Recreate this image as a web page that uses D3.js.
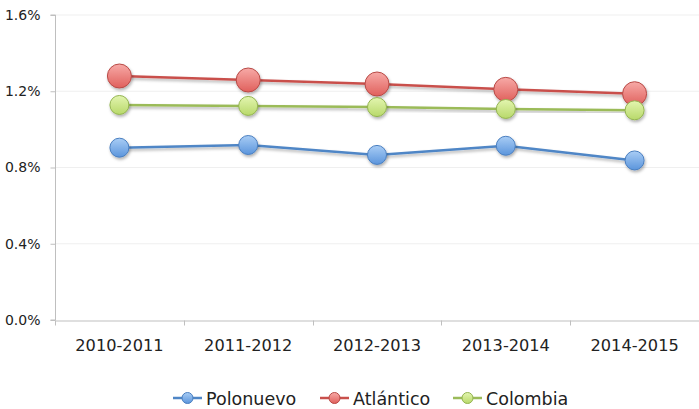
<!DOCTYPE html>
<html><head><meta charset="utf-8">
<script src="https://cdn.jsdelivr.net/npm/d3@7"></script>
<style>body{margin:0;background:#fff;} svg{display:block;font-family:"DejaVu Sans",sans-serif;}</style>
</head><body><svg id="c" width="699" height="409"></svg>
<script>
const categories = ["2010-2011","2011-2012","2012-2013","2013-2014","2014-2015"];
const polonuevo = [0.904, 0.918, 0.866, 0.914, 0.837];
const atlantico = [1.280, 1.259, 1.238, 1.210, 1.187];
const colombia  = [1.128, 1.123, 1.117, 1.107, 1.100];
const yTicks = [0, 0.4, 0.8, 1.2, 1.6];
const seriesNames = ["Polonuevo","Atlántico","Colombia"];

const svg = d3.select("#c");
const m = {l:55, r:0, t:15, b:89};
const W = 699, H = 409;
const x = d3.scaleBand().domain(categories).range([m.l, W - m.r]);
const y = d3.scaleLinear().domain([0,1.6]).range([H - m.b, m.t]);

const defs = svg.append("defs");
const styles = [
  {name:seriesNames[0], data:polonuevo, line:"#4f86c6", top:"#a9cdf5", bot:"#5b95dc", stroke:"#4a7fc0", r:9.5},
  {name:seriesNames[1], data:atlantico, line:"#c9504c", top:"#f7aaa7", bot:"#e0605c", stroke:"#b84a46", r:12},
  {name:seriesNames[2], data:colombia, line:"#9bbb59", top:"#e3f5b0", bot:"#b8d96a", stroke:"#93b450", r:9.5}
];
styles.forEach((s,i)=>{
  const g = defs.append("linearGradient").attr("id","g"+i).attr("x1",0).attr("y1",0).attr("x2",0).attr("y2",1);
  g.append("stop").attr("offset","0%").attr("stop-color",s.top);
  g.append("stop").attr("offset","100%").attr("stop-color",s.bot);
});
const f = defs.append("filter").attr("id","sh").attr("x","-50%").attr("y","-50%").attr("width","200%").attr("height","200%");
f.append("feDropShadow").attr("dx",1).attr("dy",2).attr("stdDeviation",1.5).attr("flood-color","#000").attr("flood-opacity",0.3);

// gridlines
svg.append("g").selectAll("line").data(yTicks.slice(1)).join("line")
  .attr("x1", m.l).attr("x2", W - m.r).attr("y1", d=>y(d)).attr("y2", d=>y(d))
  .attr("stroke","#efefef").attr("stroke-width",1);

// y axis
const ya = svg.append("g").attr("transform",`translate(${m.l+0.5},0)`)
  .call(d3.axisLeft(y).tickValues(yTicks).tickFormat(d=>d.toFixed(1)+"%").tickSize(5).tickPadding(10));
ya.select(".domain").attr("stroke","#bfbfbf").attr("d",`M-5,${y(1.6)}H0V${y(0)}H-5`);
ya.selectAll(".tick line").attr("stroke","#bfbfbf");
ya.selectAll("text").attr("font-size",14).attr("fill","#222").attr("font-family","DejaVu Sans");

// x axis
const xa = svg.append("g").attr("transform",`translate(0,${y(0)+0.5})`)
  .call(d3.axisBottom(x).tickSize(0).tickPadding(0));
xa.select(".domain").attr("stroke","#bfbfbf");
xa.selectAll("text").attr("font-size",16.2).attr("fill","#222").attr("font-family","DejaVu Sans")
  .attr("dy",null).attr("y",30.5);
const bounds = categories.map(c=>x(c)).concat([x(categories[categories.length-1])+x.bandwidth()]);
xa.append("g").selectAll("line").data(bounds).join("line")
  .attr("x1",d=>Math.round(d)+0.5).attr("x2",d=>Math.round(d)+0.5).attr("y1",0).attr("y2",5).attr("stroke","#bfbfbf");

// lines & markers
const line = d3.line().x((d,i)=>x(categories[i])+x.bandwidth()/2).y(d=>y(d));
styles.forEach((s,i)=>{
  svg.append("path").datum(s.data).attr("d",line).attr("fill","none")
    .attr("stroke",s.line).attr("stroke-width",2.5).attr("filter","url(#sh)");
});
styles.forEach((s,i)=>{
  svg.append("g").selectAll("circle").data(s.data).join("circle")
    .attr("cx",(d,j)=>x(categories[j])+x.bandwidth()/2).attr("cy",d=>y(d)).attr("r",s.r)
    .attr("fill",`url(#g${i})`).attr("stroke",s.stroke).attr("stroke-width",1).attr("filter","url(#sh)");
});

// legend
const legX = [173, 320, 453];
const lg = svg.append("g");
styles.forEach((s,i)=>{
  const g = lg.append("g").attr("transform",`translate(${legX[i]},398)`);
  g.append("line").attr("x1",0).attr("x2",29).attr("y1",0).attr("y2",0).attr("stroke",s.line).attr("stroke-width",2.5);
  g.append("circle").attr("cx",14.5).attr("cy",0).attr("r",5.5).attr("fill",`url(#g${i})`).attr("stroke",s.stroke);
  g.append("text").attr("x",33).attr("y",7).attr("font-size",17.5).attr("fill","#222").text(s.name);
});
</script></body></html>
